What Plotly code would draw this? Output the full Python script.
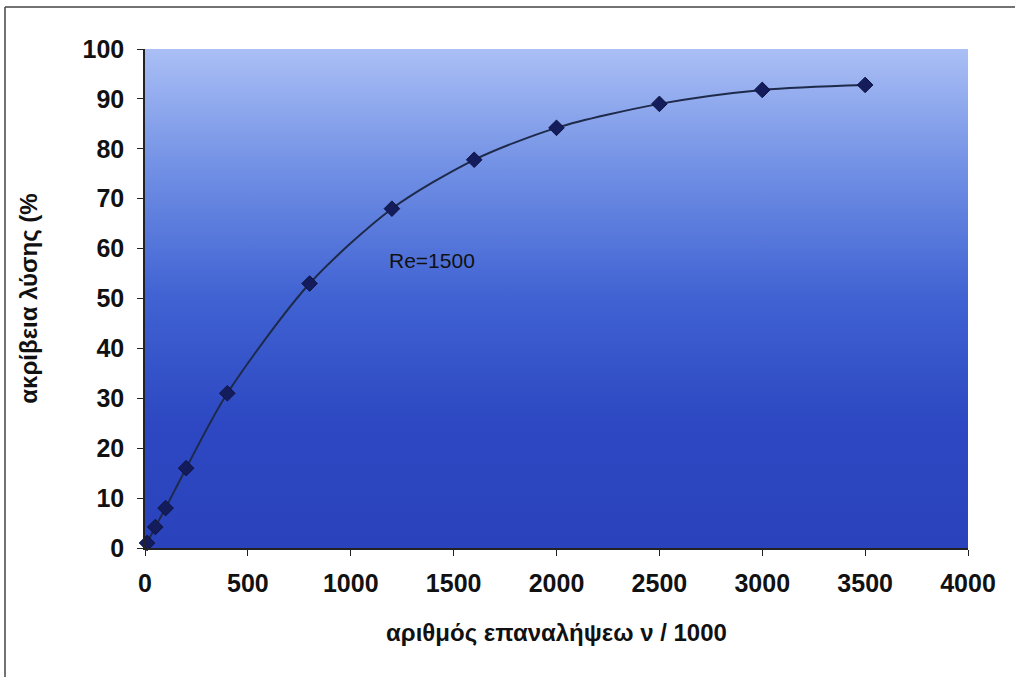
import plotly.graph_objects as go

# Iterations (thousands) vs. solution accuracy (%) for Re=1500
iterations = [10, 50, 100, 200, 400, 800, 1200, 1600, 2000, 2500, 3000, 3500]
accuracy = [1, 4.2, 8, 16, 31, 53, 68, 77.8, 84.2, 89, 91.8, 92.8]

x_ticks = [0, 500, 1000, 1500, 2000, 2500, 3000, 3500, 4000]
y_ticks = [0, 10, 20, 30, 40, 50, 60, 70, 80, 90, 100]

X_RANGE = [0, 4000]
Y_RANGE = [0, 100]

fig = go.Figure()

# Plot-area background with a vertical blue gradient
fig.add_trace(go.Scatter(
    x=[X_RANGE[0], X_RANGE[1], X_RANGE[1], X_RANGE[0], X_RANGE[0]],
    y=[Y_RANGE[0], Y_RANGE[0], Y_RANGE[1], Y_RANGE[1], Y_RANGE[0]],
    mode="lines", line=dict(width=0), fill="toself",
    fillgradient=dict(
        type="vertical",
        colorscale=[[0.0, "#2a43bd"], [0.25, "#2d48c2"], [0.5, "#4062d2"],
                    [0.75, "#6f8ee4"], [1.0, "#aabff5"]],
    ),
    hoverinfo="skip", showlegend=False,
))

fig.add_trace(go.Scatter(
    x=iterations, y=accuracy,
    mode="lines+markers",
    line=dict(color="#1e2a4a", width=2, shape="spline", smoothing=0.8),
    marker=dict(symbol="diamond", size=12, color="#141c5c",
                line=dict(color="#0e1440", width=1)),
    cliponaxis=False, showlegend=False,
))

fig.add_annotation(x=1175, y=57.7, text="Re=1500", showarrow=False,
                   xanchor="left", yanchor="middle",
                   font=dict(family="Liberation Sans, Arial", size=21, color="#111"))

# Frame lines around the chart
fig.add_shape(type="line", xref="paper", yref="paper",
              x0=-0.1701, x1=1.06, y0=1.0842, y1=1.0842,
              line=dict(color="#444", width=1.5))
fig.add_shape(type="line", xref="paper", yref="paper",
              x0=-0.1701, x1=-0.1701, y0=1.0842, y1=-0.27,
              line=dict(color="#444", width=1.5))

tick_font = dict(family="Liberation Sans, Arial", size=25, color="#111")
title_font = dict(family="Liberation Sans, Arial", size=24, color="#111")

fig.update_layout(
    width=1015, height=677,
    margin=dict(l=145, r=47, t=49, b=129),
    paper_bgcolor="white", plot_bgcolor="white",
    xaxis=dict(
        range=X_RANGE, tickvals=x_ticks, ticktext=[f"<b>{v}</b>" for v in x_ticks],
        ticks="outside", ticklen=6, tickcolor="#222", showgrid=False, zeroline=False,
        showline=True, linecolor="#222", linewidth=1.5, tickfont=tick_font,
        ticklabelstandoff=6,
        title=dict(text="<b>αριθμός επαναλήψεω ν / 1000</b>", font=title_font, standoff=28),
    ),
    yaxis=dict(
        range=Y_RANGE, tickvals=y_ticks, ticktext=[f"<b>{v}</b>" for v in y_ticks],
        ticks="outside", ticklen=6, tickcolor="#222", showgrid=False, zeroline=False,
        showline=True, linecolor="#222", linewidth=1.5, tickfont=tick_font,
        ticklabelstandoff=8,
        title=dict(text="<b>ακρίβεια λύσης (%</b>", font=title_font, standoff=38),
    ),
)

fig.write_html("out.html")
